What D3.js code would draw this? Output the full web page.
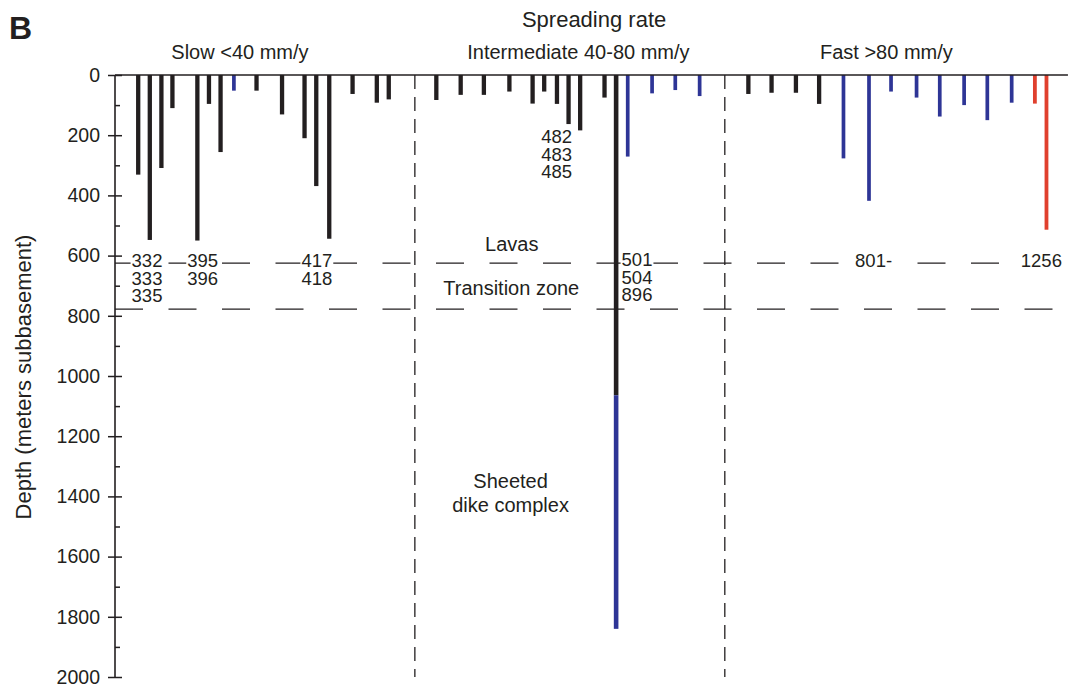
<!DOCTYPE html>
<html>
<head>
<meta charset="utf-8">
<script src="https://cdn.jsdelivr.net/npm/d3@7"></script>
<style>
  html, body { margin: 0; padding: 0; background: #fff; }
  svg { display: block; }
  text { font-family: "Liberation Sans", Arial, Helvetica, sans-serif; fill: #231f20; }
</style>
</head>
<body>
<svg id="chart" width="1071" height="685"></svg>
<script>
// ---------------- DATA ----------------
// Hole positions (slot units along the spreading-rate axis) and penetration depths (m subbasement)
const holePos   = [0, 1, 2, 2.95, 5.1, 6.1, 7.1, 8.25, 10.2, 12.4, 14.34, 15.35, 16.47, 18.48, 20.57, 21.6,
                   25.7, 27.8, 29.8, 32.0, 34.0, 35.0, 36.1, 37.1, 38.1, 40.2, 41.2, 41.2, 42.2, 44.3, 46.3, 48.4,
                   52.6, 54.6, 56.7, 58.7, 60.8, 63.0, 64.9, 67.1, 69.1, 71.2, 73.2, 75.3, 77.3, 78.3];
const holeTop   = [0, 0, 0, 0, 0, 0, 0, 0, 0, 0, 0, 0, 0, 0, 0, 0,
                   0, 0, 0, 0, 0, 0, 0, 0, 0, 0, 0, 1064, 0, 0, 0, 0,
                   0, 0, 0, 0, 0, 0, 0, 0, 0, 0, 0, 0, 0, 0];
const holeDepth = [331, 548, 309, 110, 550, 96, 256, 52, 52, 131, 210, 369, 544, 63, 92, 81,
                   83, 66, 66, 55, 95, 55, 96, 163, 184, 75, 1064, 1840, 271, 61, 50, 70,
                   63, 59, 59, 96, 277, 418, 55, 75, 138, 100, 150, 92, 95, 514];
const holeKind  = ["k","k","k","k","k","k","k","b","k","k","k","k","k","k","k","k",
                   "k","k","k","k","k","k","k","k","k","k","k","b","b","b","b","b",
                   "k","k","k","k","b","b","b","b","b","b","b","b","r","r"];

const depthTicks = [0, 200, 400, 600, 800, 1000, 1200, 1400, 1600, 1800, 2000];
const minorTicks = [100, 300, 500, 700, 900, 1100, 1300, 1500, 1700, 1900];

const boundaryDepths = [625, 778];          // lavas / transition zone / dikes
const sectionDividers = [23.85, 50.57];     // slot positions of rate dividers

const sectionNames = ["Slow <40 mm/y", "Intermediate 40-80 mm/y", "Fast >80 mm/y"];
const sectionCenters = [8.77, 37.95, 64.5];

// Site labels: [lines, slot position, depth of first baseline, anchor]
const siteLabels = [
  [["332", "333", "335"], -0.57, 638, "start"],
  [["395", "396"], 5.56, 638, "middle"],
  [["417", "418"], 15.4, 638, "middle"],
  [["482", "483", "485"], 36.07, 226, "middle"],
  [["501", "504", "896"], 41.67, 636, "start"],
  [["801-"], 61.8, 638, "start"],
  [["1256"], 77.86, 638, "middle"]
];
const zoneLabels = [
  [["Lavas"], 32.2, 586],
  [["Transition zone"], 32.16, 730],
  [["Sheeted", "dike complex"], 32.1, 1373]
];

// ---------------- CHART ----------------
const svg = d3.select("#chart");
const ink = "#231f20";
const colors = { k: ink, b: "#2e3596", r: "#e0402e" };
const widths = { k: 4.3, b: 3.7, r: 3.8 };

const x = d3.scaleLinear().domain([-2, 80]).range([115, 1066.2]);
const y = d3.scaleLinear().domain([0, 2000]).range([75, 677]);

// Boundary dashed lines
svg.append("g").selectAll("line").data(boundaryDepths).join("line")
  .attr("x1", x(-2)).attr("x2", x(80.15))
  .attr("y1", d => y(d)).attr("y2", d => y(d))
  .attr("stroke", ink).attr("stroke-width", 1.3)
  .attr("stroke-dasharray", "28,25.5");

// Section dividers
svg.append("g").selectAll("line").data(sectionDividers).join("line")
  .attr("x1", d => x(d)).attr("x2", d => x(d))
  .attr("y1", y(0)).attr("y2", y(2000))
  .attr("stroke", ink).attr("stroke-width", 1.3)
  .attr("stroke-dasharray", "14,8");

// Site labels with white backgrounds
const lineH = 17.5;
siteLabels.forEach(([lines, pos, dep, anchor]) => {
  const g = svg.append("g");
  lines.forEach((t, i) => {
    g.append("text")
      .attr("x", x(pos)).attr("y", y(dep) + i * lineH)
      .attr("text-anchor", anchor)
      .attr("font-size", 18.5).text(t);
  });
  const bb = g.node().getBBox();
  g.insert("rect", "text")
    .attr("x", bb.x - 1).attr("y", y(dep) - 14)
    .attr("width", bb.width + 2).attr("height", 15)
    .attr("fill", "#fff");
});

zoneLabels.forEach(([lines, pos, dep]) => {
  lines.forEach((t, i) => {
    svg.append("text")
      .attr("x", x(pos)).attr("y", y(dep) + i * 23.5)
      .attr("text-anchor", "middle")
      .attr("font-size", 20).text(t);
  });
});

// Bars
const holes = holePos.map((p, i) => ({ p, top: holeTop[i], depth: holeDepth[i], kind: holeKind[i] }));
svg.append("g").selectAll("rect").data(holes).join("rect")
  .attr("x", d => x(d.p) - (d.depth > 1000 ? 4.6 : widths[d.kind]) / 2)
  .attr("width", d => d.depth > 1000 ? 4.6 : widths[d.kind])
  .attr("y", d => y(d.top))
  .attr("height", d => y(d.depth) - y(d.top))
  .attr("fill", d => colors[d.kind]);

// Top line
svg.append("line")
  .attr("x1", x(-2)).attr("x2", x(80.15))
  .attr("y1", y(0)).attr("y2", y(0))
  .attr("stroke", ink).attr("stroke-width", 1.6);

// Y axis
const yAxis = svg.append("g").attr("transform", `translate(${x(-2)},0)`)
  .call(d3.axisLeft(y).tickValues(depthTicks).tickSize(7).tickPadding(8).tickFormat(d3.format("d")));
yAxis.select(".domain").attr("stroke", ink).attr("stroke-width", 1.6).attr("d", `M0,${y(0)}V${y(2000)}`);
yAxis.selectAll(".tick line").attr("x1", -7).attr("x2", 7).attr("stroke", ink).attr("stroke-width", 1.5);
yAxis.selectAll(".tick text").attr("font-size", 19.5).attr("font-family", "Liberation Sans, Arial, sans-serif").attr("fill", ink);

const minor = svg.append("g").attr("transform", `translate(${x(-2)},0)`)
  .call(d3.axisRight(y).tickValues(minorTicks).tickSize(5).tickFormat(""));
minor.select(".domain").remove();
minor.selectAll(".tick line").attr("stroke", ink).attr("stroke-width", 1.5);

// Axis title
svg.append("text")
  .attr("transform", `translate(31,${(y(0) + y(2000)) / 2 + 1}) rotate(-90)`)
  .attr("text-anchor", "middle").attr("font-size", 22)
  .text("Depth (meters subbasement)");

// Section headers
svg.append("g").selectAll("text").data(sectionNames).join("text")
  .attr("x", (d, i) => x(sectionCenters[i])).attr("y", 59)
  .attr("text-anchor", "middle").attr("font-size", 20)
  .text(d => d);

svg.append("text").attr("x", x(39.3)).attr("y", 27)
  .attr("text-anchor", "middle").attr("font-size", 22).text("Spreading rate");

svg.append("text").attr("x", 9).attr("y", 39)
  .attr("font-size", 32).attr("font-weight", "bold").text("B");
</script>
</body>
</html>
